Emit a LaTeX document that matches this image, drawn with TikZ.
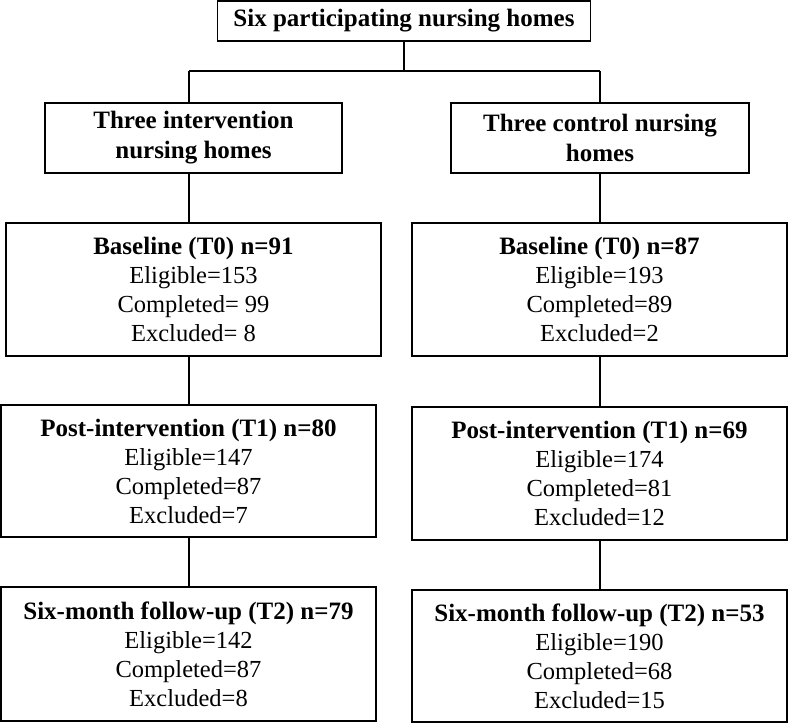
\documentclass[tikz,border=0pt]{standalone}
\usepackage{fontspec}
\setmainfont{Liberation Serif}
\newcommand{\hd}[1]{{\fontsize{25}{29}\selectfont\bfseries #1}}
\begin{document}
\begin{tikzpicture}[x=1pt,y=1pt,
  box/.style={draw=black, line width=1.9pt, align=center, inner sep=0pt,
    font=\fontsize{24.5}{29}\selectfont, text=black},
  wide/.style={box, minimum width=375pt, minimum height=133pt},
  link/.style={draw=black, line width=1.9pt}]
\useasboundingbox (0,0) rectangle (788,-723);
\node[box, minimum width=373pt, minimum height=40pt] (top) at (404,-21) {\hd{Six participating nursing homes}};
\node[box, minimum width=297pt, minimum height=70pt, font=\fontsize{24.5}{30}\selectfont] (int) at (193.5,-138) {\hd{Three intervention}\\\hd{nursing homes}};
\node[box, minimum width=298pt, minimum height=70pt, font=\fontsize{24.5}{30}\selectfont] (ctl) at (600,-138) {\hd{Three control nursing}\\\hd{homes}};
\node[wide] (b0L) at (193.5,-289.5) {\hd{Baseline (T0) n=91}\\Eligible=153\\Completed= 99\\Excluded= 8};
\node[wide] (b0R) at (599.5,-289.5) {\hd{Baseline (T0) n=87}\\Eligible=193\\Completed=89\\Excluded=2};
\node[wide, minimum height=132pt] (b1L) at (188.5,-471) {\hd{Post-intervention (T1) n=80}\\Eligible=147\\Completed=87\\Excluded=7};
\node[wide] (b1R) at (599.5,-473.5) {\hd{Post-intervention (T1) n=69}\\Eligible=174\\Completed=81\\Excluded=12};
\node[wide, minimum height=134pt] (b2L) at (188.5,-654) {\hd{Six-month follow-up (T2) n=79}\\Eligible=142\\Completed=87\\Excluded=8};
\node[wide, minimum height=132pt] (b2R) at (599.5,-656) {\hd{Six-month follow-up (T2) n=53}\\Eligible=190\\Completed=68\\Excluded=15};
\coordinate (cl) at (189,0);
\coordinate (cr) at (600,0);
\coordinate (split) at (404,-71);
\draw[link] (top.south) -- (split);
\draw[link] (cl |- split) -- (cr |- split);
\draw[link] (cl |- split) -- (cl |- int.north);
\draw[link] (cr |- split) -- (cr |- ctl.north);
\draw[link] (cl |- int.south) -- (cl |- b0L.north);
\draw[link] (cr |- ctl.south) -- (cr |- b0R.north);
\draw[link] (cl |- b0L.south) -- (cl |- b1L.north);
\draw[link] (cr |- b0R.south) -- (cr |- b1R.north);
\draw[link] (cl |- b1L.south) -- (cl |- b2L.north);
\draw[link] (cr |- b1R.south) -- (cr |- b2R.north);
\end{tikzpicture}
\end{document}
